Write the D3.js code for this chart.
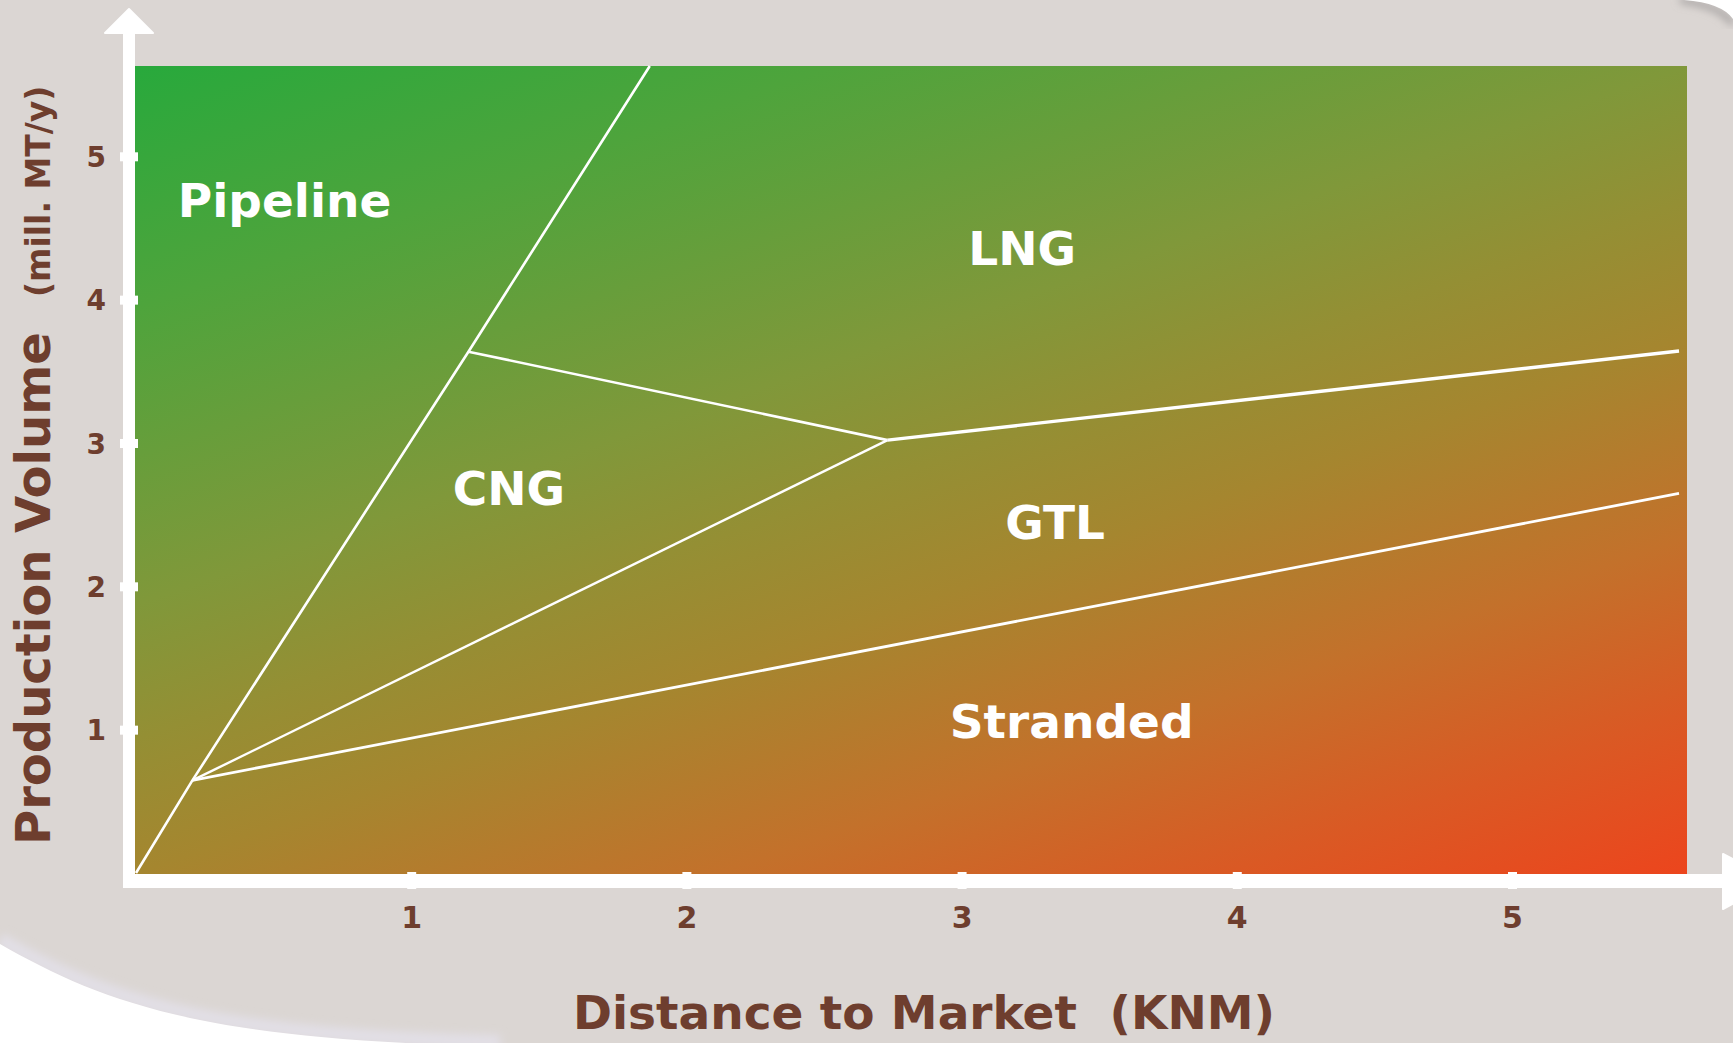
<!DOCTYPE html>
<html>
<head>
<meta charset="utf-8">
<script src="https://cdn.jsdelivr.net/npm/d3@7"></script>
<style>
  html, body { margin: 0; padding: 0; background: #ffffff; overflow: hidden; }
  svg { display: block; }
  text { font-family: "DejaVu Sans", Verdana, sans-serif; font-weight: bold; }
</style>
</head>
<body>
<svg id="chart" width="1733" height="1043"></svg>
<script>
// Axis ticks
const xTicks = [1, 2, 3, 4, 5];
const yTicks = [1, 2, 3, 4, 5];

// Region names and the point (distance, volume) where each name sits
const regionNames = ["Pipeline", "LNG", "CNG", "GTL", "Stranded"];
const regionDistance = [0.54, 3.22, 1.355, 3.34, 3.40];
const regionVolume = [4.575, 4.24, 2.566, 2.33, 0.941];

// Boundaries between transport options: [distance (KNM), volume (mill. MT/y)]
const pipelineEdge = [[0, 0], [0.205, 0.646], [1.208, 3.637], [1.867, 5.63]];
const cngLngEdge = [[1.208, 3.637], [2.731, 3.02]];
const lngGtlEdge = [[2.731, 3.02], [5.607, 3.642]];
const cngGtlEdge = [[0.205, 0.646], [2.731, 3.02]];
const gtlStrandedEdge = [[0.205, 0.646], [5.607, 2.648]];

const xMax = 5.636, yMax = 5.63;

const W = 1733, H = 1043;
const brown = "#6e3e2e";
const svg = d3.select("#chart");

const x = d3.scaleLinear().domain([0, xMax]).range([136, 1687]);
const y = d3.scaleLinear().domain([0, yMax]).range([873, 66]);

const defs = svg.append("defs");

// Field colour: green at short distance / high volume, red at long distance / low volume
const grad = defs.append("linearGradient")
  .attr("id", "field")
  .attr("x1", 0).attr("y1", 0).attr("x2", 0.769).attr("y2", 1.154);
[
  [0.00, "#28a93c"],
  [0.18, "#4ea43c"],
  [0.40, "#80983a"],
  [0.50, "#948f34"],
  [0.60, "#a5862f"],
  [0.75, "#c3712b"],
  [0.88, "#da5924"],
  [1.00, "#ec451d"]
].forEach(([o, c]) => grad.append("stop").attr("offset", o).attr("stop-color", c));

const soft = defs.append("filter").attr("id", "soft")
  .attr("x", "-20%").attr("y", "-20%").attr("width", "140%").attr("height", "140%");
soft.append("feGaussianBlur").attr("stdDeviation", 4);

// Slide backdrop: grey panel with rounded white corners
svg.append("rect").attr("width", W).attr("height", H).attr("fill", "#dbd6d3");
svg.append("path")
  .attr("d", "M0,940 C100,997 200,1037 500,1042")
  .attr("fill", "none").attr("stroke", "#e2dfe6").attr("stroke-width", 14)
  .attr("filter", "url(#soft)");
svg.append("path")
  .attr("d", "M0,944 C100,1001 200,1041 500,1046 L0,1046 Z")
  .attr("fill", "#ffffff");
svg.append("path")
  .attr("d", "M1680,0 Q1720,5 1733,24")
  .attr("fill", "none").attr("stroke", "#9a9696").attr("stroke-width", 5)
  .attr("filter", "url(#soft)");
svg.append("path")
  .attr("d", "M1684,0 Q1722,3 1733,19 L1733,0 Z")
  .attr("fill", "#ffffff");

// Plot field
svg.append("rect")
  .attr("x", x(0) - 2).attr("y", y(yMax))
  .attr("width", x(xMax) - x(0) + 2).attr("height", y(0) - y(yMax) + 1)
  .attr("fill", "url(#field)");

// Boundary lines
const line = d3.line().x(d => x(d[0])).y(d => y(d[1]));
const edges = [
  [pipelineEdge, 2.6],
  [cngLngEdge, 2.6],
  [lngGtlEdge, 3.4],
  [cngGtlEdge, 2.4],
  [gtlStrandedEdge, 2.8]
];
svg.append("g").selectAll("path").data(edges).join("path")
  .attr("d", d => line(d[0]))
  .attr("fill", "none")
  .attr("stroke", "#ffffff")
  .attr("stroke-width", d => d[1])
  .attr("stroke-linejoin", "round");

// Region names
svg.append("g").selectAll("text").data(regionNames).join("text")
  .attr("x", (d, i) => x(regionDistance[i]))
  .attr("y", (d, i) => y(regionVolume[i]))
  .attr("text-anchor", "middle")
  .attr("font-size", 47)
  .attr("fill", "#ffffff")
  .text(d => d);

// Axes with arrow heads
const axisX = 129, axisY = 881;
const arrows = svg.append("g").attr("fill", "#ffffff");
arrows.append("rect").attr("x", axisX - 6).attr("y", 30).attr("width", 12).attr("height", axisY + 7 - 30);
arrows.append("rect").attr("x", axisX - 6).attr("y", axisY - 7).attr("width", 1730 - axisX).attr("height", 14);
arrows.append("path")
  .attr("d", `M${axisX - 24},33 L${axisX},9 L${axisX + 24},33 Z`)
  .attr("stroke", "#ffffff").attr("stroke-width", 2).attr("stroke-linejoin", "round");
arrows.append("path")
  .attr("d", `M1723,${axisY - 27} L1775,${axisY} L1723,${axisY + 28} Z`)
  .attr("stroke", "#ffffff").attr("stroke-width", 2).attr("stroke-linejoin", "round");

const gx = svg.append("g")
  .attr("transform", `translate(0,${axisY})`)
  .call(d3.axisBottom(x).tickValues(xTicks).tickFormat(d3.format("d")).tickSizeOuter(0));
gx.select(".domain").remove();
gx.selectAll(".tick line")
  .attr("y1", -9).attr("y2", 8)
  .attr("stroke", "#ffffff").attr("stroke-width", 9);
gx.selectAll(".tick text")
  .attr("y", 47).attr("dy", null)
  .attr("font-size", 30)
  .attr("font-family", "'DejaVu Sans', sans-serif")
  .attr("fill", brown);

const gy = svg.append("g")
  .attr("transform", `translate(${axisX},0)`)
  .call(d3.axisLeft(y).tickValues(yTicks).tickFormat(d3.format("d")).tickSizeOuter(0));
gy.select(".domain").remove();
gy.selectAll(".tick line")
  .attr("x1", -9).attr("x2", 9)
  .attr("stroke", "#ffffff").attr("stroke-width", 9);
gy.selectAll(".tick text")
  .attr("x", -23).attr("dy", "0.36em")
  .attr("font-size", 28)
  .attr("font-family", "'DejaVu Sans', sans-serif")
  .attr("fill", brown);

// Axis titles
svg.append("text")
  .attr("x", 924).attr("y", 1029)
  .attr("text-anchor", "middle")
  .attr("font-size", 47)
  .attr("fill", brown)
  .attr("xml:space", "preserve")
  .text("Distance to Market  (KNM)");

svg.append("text")
  .attr("transform", "translate(50,845) rotate(-90)")
  .attr("font-size", 48)
  .attr("fill", brown)
  .text("Production Volume");

svg.append("text")
  .attr("transform", "translate(50,297) rotate(-90)")
  .attr("font-size", 33)
  .attr("fill", brown)
  .text("(mill. MT/y)");
</script>
</body>
</html>
